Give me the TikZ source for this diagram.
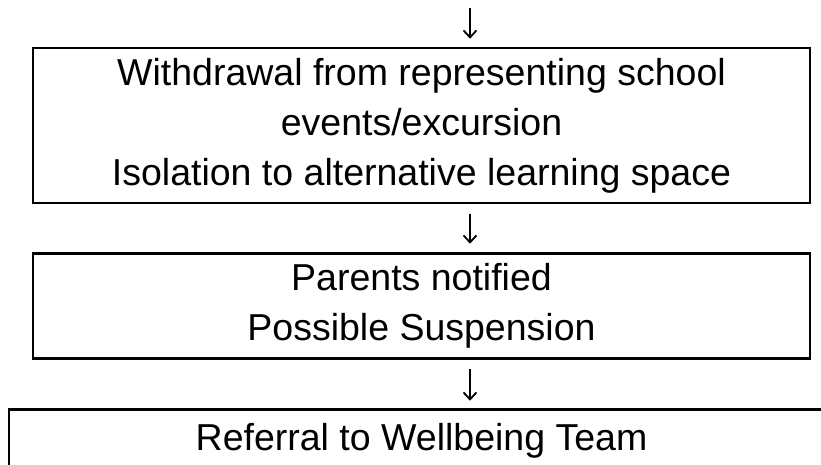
\documentclass[tikz,border=0pt]{standalone}
\usepackage{fontspec}
\setmainfont{Liberation Sans}
\usepackage{tikz}
\usetikzlibrary{arrows.meta}
\tikzset{
  every picture/.style = {
    x = 1pt,
    y = -1pt,
    >={Straight Barb[length=7pt,width=13pt]},
  }
  ,
  stage/.style = {
    rectangle,
    draw,
    line width = 2.6pt,
    align = center,
    inner sep = 0pt,
    minimum width = 777pt,
    font = \fontsize{37.5pt}{50pt}\selectfont
  }
  , % arrows between the stages
  flow/.style = {
    ->,
    line width = 1.8pt
  }
}
\begin{document}
\begin{tikzpicture}
\useasboundingbox (0,0) rectangle (821,464);
\coordinate (top) at (470,8);
\node [stage, minimum height = 155pt] (withdraw) at (421.5,125.5)
  {Withdrawal from representing school\\ events/excursion\\ Isolation to alternative learning space};
\node [stage, minimum height = 105pt] (parents) at (421.5,306)
  {Parents notified\\ Possible Suspension};
\node [stage, minimum height = 62pt, minimum width = 825pt] (referral) at (421.5,440.5)
  {Referral to Wellbeing Team};

\draw [flow, shorten > = 8pt] (top) -- (withdraw.north -| top);
\draw [flow, shorten < = 10pt, shorten > = 8.5pt] (withdraw.south -| top) -- (parents.north -| top);
\draw [flow, shorten < = 9.5pt, shorten > = 7.5pt] (parents.south -| top) -- (referral.north -| top);
\end{tikzpicture}
\end{document}
